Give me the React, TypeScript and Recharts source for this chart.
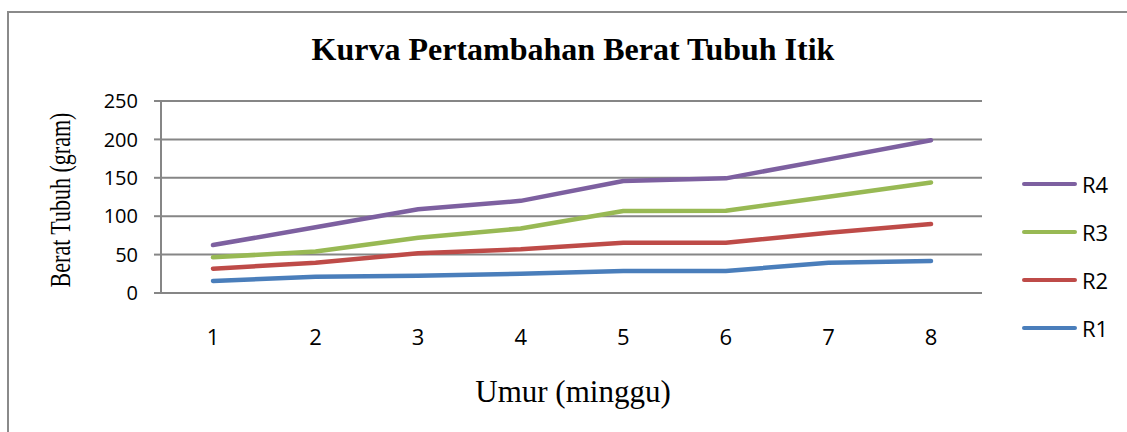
import { LineChart, Line, XAxis, YAxis, CartesianGrid } from "recharts";

const weeks = ["1", "2", "3", "4", "5", "6", "7", "8"];
const r1 = [15.6, 21.2, 22.5, 25, 28.6, 28.6, 39.5, 41.7];
const r2 = [31.7, 39.5, 51.7, 57, 65.5, 65.5, 78.5, 89.8];
const r3 = [46.5, 54, 72, 84, 106.8, 107.2, 125.4, 144];
const r4 = [62.5, 85.5, 109, 120, 145.8, 149.3, 174, 199];
const yTicks = [0, 50, 100, 150, 200, 250];

const series = [
  { key: "R1", color: "#4A7EBB" },
  { key: "R2", color: "#BE4B48" },
  { key: "R3", color: "#98B954" },
  { key: "R4", color: "#7D60A0" },
];

const data = weeks.map((w, i) => ({ week: w, R1: r1[i], R2: r2[i], R3: r3[i], R4: r4[i] }));

const sans = "'Open Sans', 'Noto Sans', sans-serif";
const serif = "'Liberation Serif', 'Times New Roman', serif";

function SideLegend() {
  // R4 on top, as in the original
  return (
    <div style={{ position: "absolute", left: 1013, top: 161, width: 110, height: 200 }}>
      {[...series].reverse().map((s, i) => (
        <div
          key={s.key}
          style={{ position: "absolute", left: 0, top: i * 48, display: "flex", alignItems: "center", height: 20 }}
        >
          <div style={{ width: 55, height: 4, borderRadius: 2, background: s.color }} />
          <span style={{ marginLeft: 5, fontFamily: sans, fontSize: 22, color: "#000", lineHeight: "20px" }}>
            {s.key}
          </span>
        </div>
      ))}
    </div>
  );
}

export default function App() {
  return (
    <div
      style={{
        position: "absolute",
        left: 7,
        top: 11,
        width: 1140,
        height: 440,
        border: "2px solid #8a8a8a",
        background: "#fff",
      }}
    >
      <div
        style={{
          position: "absolute",
          left: 0,
          width: 1128,
          top: 18,
          textAlign: "center",
          fontFamily: serif,
          fontWeight: "bold",
          fontSize: 32,
          whiteSpace: "nowrap",
        }}
      >
        Kurva Pertambahan Berat Tubuh Itik
      </div>
      <div style={{ position: "absolute", left: 52, top: 187, width: 0, height: 0 }}>
        <div
          style={{
            position: "absolute",
            transform: "translate(-50%, -50%) rotate(-90deg) scaleY(1.35)",
            whiteSpace: "nowrap",
            fontFamily: serif,
            fontSize: 22,
          }}
        >
          Berat Tubuh (gram)
        </div>
      </div>
      <div
        style={{
          position: "absolute",
          left: 0,
          width: 1128,
          top: 361,
          textAlign: "center",
          fontFamily: serif,
          fontSize: 31,
          whiteSpace: "nowrap",
        }}
      >
        Umur (minggu)
      </div>
      <SideLegend />
      <LineChart width={1113} height={420} data={data} margin={{ top: 88, right: 140, left: 92, bottom: 100 }}>
        <CartesianGrid vertical={false} stroke="#868686" strokeWidth={2} />
        <XAxis
          dataKey="week"
          padding={{ left: 52, right: 51 }}
          axisLine={{ stroke: "#868686", strokeWidth: 2 }}
          tickLine={false}
          tickSize={0}
          tickMargin={36}
          height={40}
          tick={{ fontFamily: sans, fontSize: 22, fill: "#000" }}
        />
        <YAxis
          domain={[0, 250]}
          ticks={yTicks}
          width={60}
          axisLine={{ stroke: "#868686", strokeWidth: 2 }}
          tickLine={{ stroke: "#868686", strokeWidth: 2 }}
          tickSize={7}
          tickMargin={16}
          tick={{ fontFamily: sans, fontSize: 20, fill: "#000" }}
        />
        {series.map((s) => (
          <Line
            key={s.key}
            dataKey={s.key}
            stroke={s.color}
            strokeWidth={4.5}
            strokeLinecap="round"
            strokeLinejoin="round"
            dot={false}
            type="linear"
            isAnimationActive={false}
          />
        ))}
      </LineChart>
    </div>
  );
}
